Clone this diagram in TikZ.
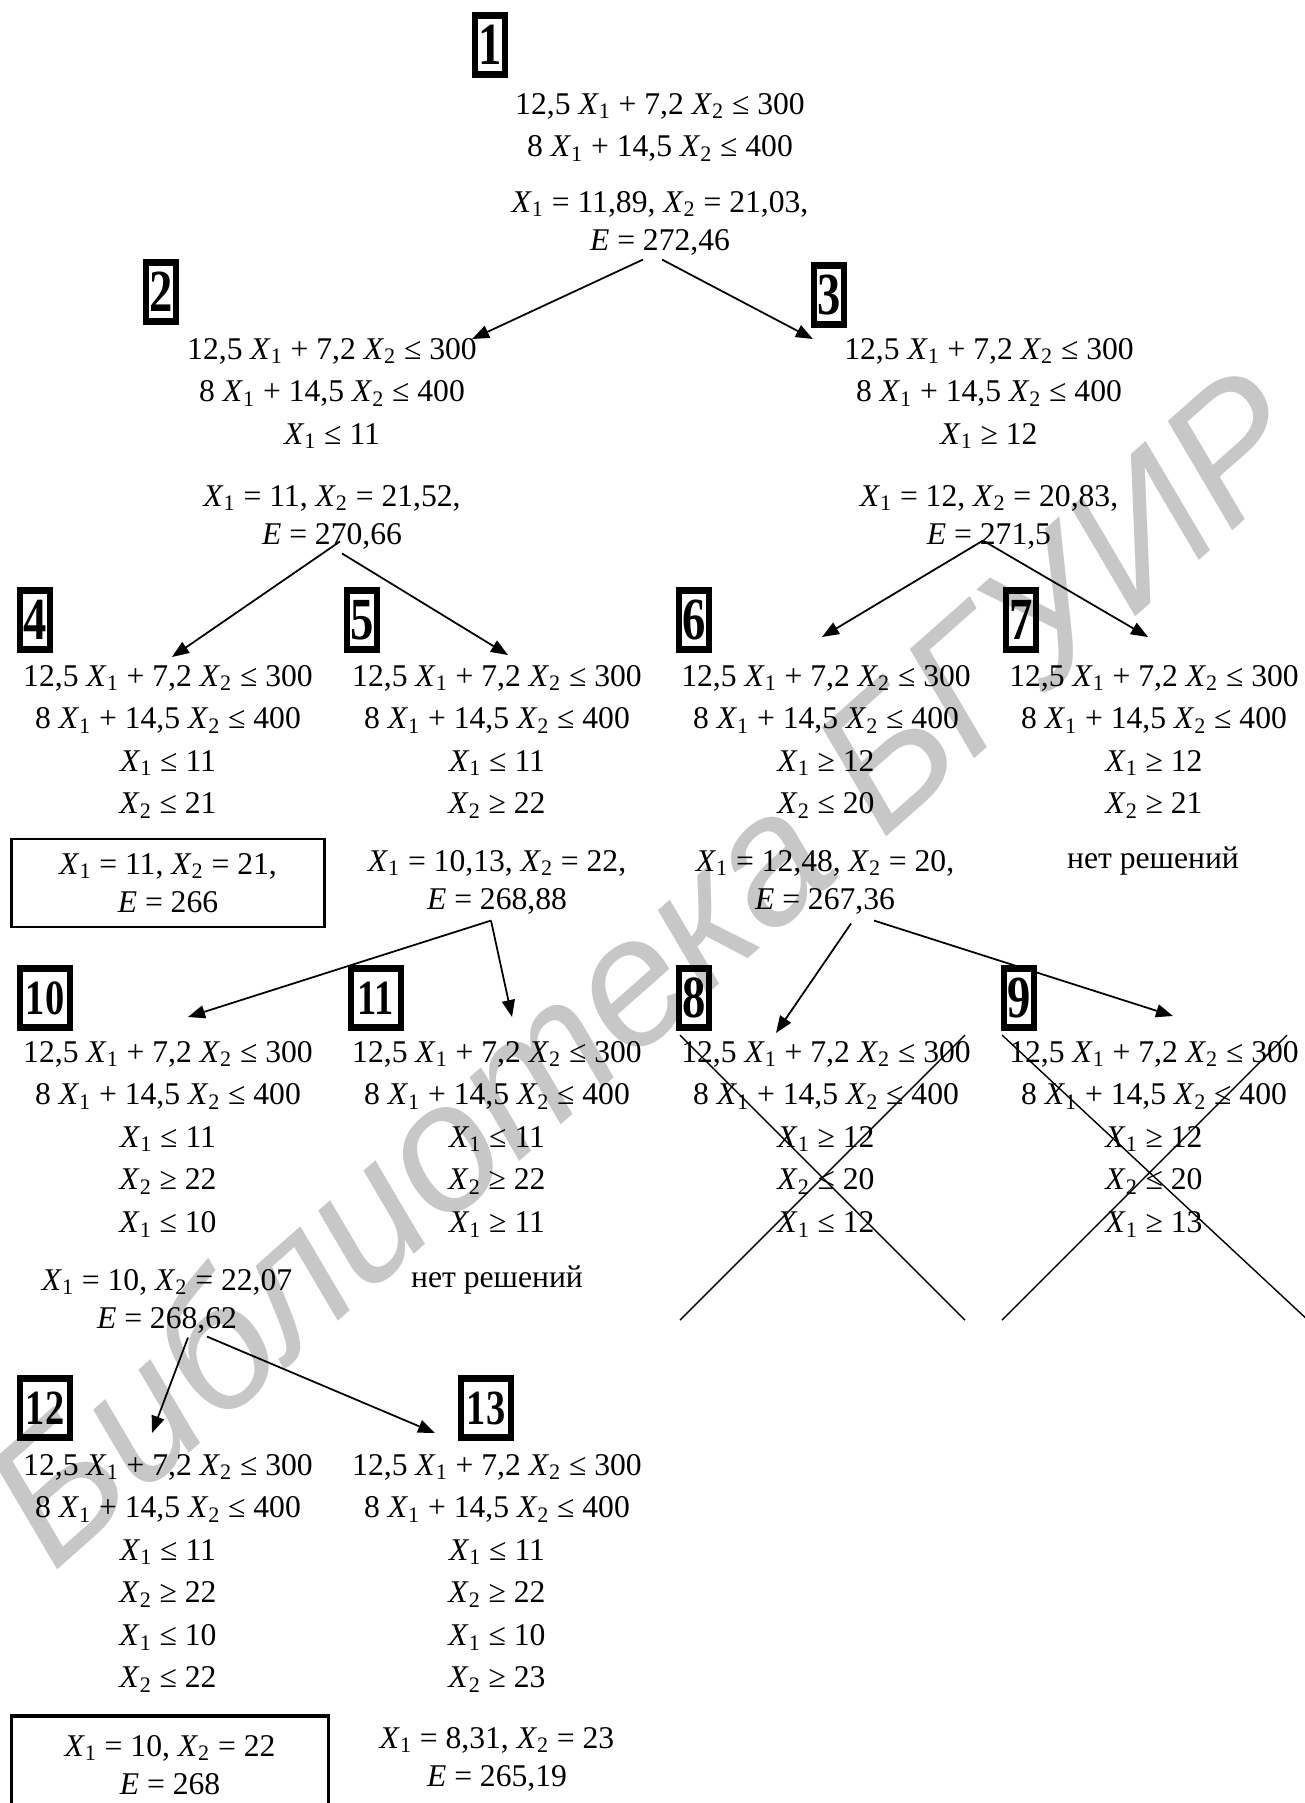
\documentclass[tikz,border=0pt]{standalone}
\usepackage{fontspec}
\setmainfont{Liberation Serif}
\newfontfamily\wmfont{Liberation Sans}
\usepackage{graphicx}
\usetikzlibrary{arrows.meta,calc}

\newcommand\Xa{\textit{X}\textsubscript{1}}
\newcommand\Xb{\textit{X}\textsubscript{2}}
\newcommand\Ev{\textit{E}}
\newcommand\lima{12,5 \Xa{} + 7,2 \Xb{} ≤ 300}
\newcommand\limb{8 \Xa{} + 14,5 \Xb{} ≤ 400}
\newcommand\nosol{нет решений}
\newcommand\nr[1]{\scalebox{0.78}[1]{#1}}

\begin{document}
\begin{tikzpicture}[
    x=0.02cm, y=-0.02cm,
    cons/.style={
        align=center,
        inner sep=0pt,
        anchor=north,
        font=\fontsize{18}{24.2}\selectfont
    },
    res/.style={
        align=center,
        inner sep=0pt,
        anchor=north,
        font=\fontsize{18}{21.6}\selectfont
    },
    best/.style={
        draw,
        line width=1.2pt,
        align=center,
        inner sep=0pt,
        minimum width=6.26cm,
        minimum height=1.76cm,
        font=\fontsize{18}{21.6}\selectfont
    },
    lbl/.style={
        draw,
        line width=3.6pt,
        inner sep=0pt,
        minimum width=0.6cm,
        minimum height=1.18cm,
        font=\fontsize{34}{34}\selectfont\bfseries
    },
    lblw/.style={lbl, minimum width=1.0cm, font=\fontsize{28}{28}\selectfont\bfseries},
    arrow/.style={-{Triangle[length=3.4mm,width=2.6mm]}, line width=1pt},
    cross/.style={line width=0.8pt},
    wm/.style={
        text=black!22,
        anchor=base,
        rotate=41.5,
        font=\wmfont\itshape\fontsize{103}{103}\selectfont
    }
]
\useasboundingbox (0,0) rectangle (1305,1803);

% watermark
\node[wm] (wmark) at (686,1014) {Библиотека БГУИР};

% level 1
\node[lbl] (n1) at (490,45) {\nr{1}};
\node[cons] (c1) at (660,93) {\lima\\\limb};
\node[res] (o1) at (660,191) {\Xa{} = 11,89, \Xb{} = 21,03,\\\Ev{} = 272,46};

% level 2
\node[lbl] (n2) at (161,292) {\nr{2}};
\node[cons] (c2) at (332,338) {\lima\\\limb\\\Xa{} ≤ 11};
\node[res] (o2) at (332,485) {\Xa{} = 11, \Xb{} = 21,52,\\\Ev{} = 270,66};
\node[lbl] (n3) at (829,295) {\nr{3}};
\node[cons] (c3) at (989,338) {\lima\\\limb\\\Xa{} ≥ 12};
\node[res] (o3) at (989,485) {\Xa{} = 12, \Xb{} = 20,83,\\\Ev{} = 271,5};

% level 3
\node[lbl] (n4) at (35,620) {\nr{4}};
\node[cons] (c4) at (168,665) {\lima\\\limb\\\Xa{} ≤ 11\\\Xb{} ≤ 21};
\node[best] (o4) at (168,883) {\Xa{} = 11, \Xb{} = 21,\\\Ev{} = 266};
\node[lbl] (n5) at (362,620) {\nr{5}};
\node[cons] (c5) at (497,665) {\lima\\\limb\\\Xa{} ≤ 11\\\Xb{} ≥ 22};
\node[res] (o5) at (497,850) {\Xa{} = 10,13, \Xb{} = 22,\\\Ev{} = 268,88};
\node[lbl] (n6) at (694,620) {\nr{6}};
\node[cons] (c6) at (826,665) {\lima\\\limb\\\Xa{} ≥ 12\\\Xb{} ≤ 20};
\node[res] (o6) at (825,850) {\Xa{} = 12,48, \Xb{} = 20,\\\Ev{} = 267,36};
\node[lbl] (n7) at (1021,620) {\nr{7}};
\node[cons] (c7) at (1154,665) {\lima\\\limb\\\Xa{} ≥ 12\\\Xb{} ≥ 21};
\node[res, anchor=base] (o7) at (1153,868) {\nosol};

% level 4
\node[lblw] (n10) at (45,998) {\nr{10}};
\node[cons] (c10) at (168,1041) {\lima\\\limb\\\Xa{} ≤ 11\\\Xb{} ≥ 22\\\Xa{} ≤ 10};
\node[res] (o10) at (167,1269) {\Xa{} = 10, \Xb{} = 22,07\\\Ev{} = 268,62};
\node[lblw] (n11) at (376,998) {\nr{11}};
\node[cons] (c11) at (497,1041) {\lima\\\limb\\\Xa{} ≤ 11\\\Xb{} ≥ 22\\\Xa{} ≥ 11};
\node[res, anchor=base] (o11) at (497,1287) {\nosol};
\node[lbl] (n8) at (694,998) {\nr{8}};
\node[cons] (c8) at (826,1041) {\lima\\\limb\\\Xa{} ≥ 12\\\Xb{} ≤ 20\\\Xa{} ≤ 12};
\node[lbl] (n9) at (1019,998) {\nr{9}};
\node[cons] (c9) at (1154,1041) {\lima\\\limb\\\Xa{} ≥ 12\\\Xb{} ≤ 20\\\Xa{} ≥ 13};

% level 5
\node[lblw] (n12) at (45,1408) {\nr{12}};
\node[cons] (c12) at (168,1454) {\lima\\\limb\\\Xa{} ≤ 11\\\Xb{} ≥ 22\\\Xa{} ≤ 10\\\Xb{} ≤ 22};
\node[best, line width=1.8pt, minimum width=6.34cm, minimum height=1.96cm] (o12) at (170,1765) {\Xa{} = 10, \Xb{} = 22\\\Ev{} = 268};
\node[lblw] (n13) at (486,1408) {\nr{13}};
\node[cons] (c13) at (497,1454) {\lima\\\limb\\\Xa{} ≤ 11\\\Xb{} ≥ 22\\\Xa{} ≤ 10\\\Xb{} ≥ 23};
\node[res] (o13) at (497,1727) {\Xa{} = 8,31, \Xb{} = 23\\\Ev{} = 265,19};

% branches
\draw[arrow] ($(o1.south)+(-17,4)$) -- ($(c2.north east)+(-5,1)$);
\draw[arrow] ($(o1.south)+(2,4)$) -- ($(c3.north west)+(-31,1)$);
\draw[arrow] ($(o2.south)+(8,-8)$) -- ($(c4.north)+(4,-8)$);
\draw[arrow] ($(o2.south)+(10,4)$) -- ($(c5.north)+(11,-10)$);
\draw[arrow] ($(o3.south)+(-6,-9)$) -- ($(c6.north)+(-4,-28)$);
\draw[arrow] ($(o3.south)+(-6,-9)$) -- ($(c7.north)+(-6,-28)$);
\draw[arrow] ($(o5.south)+(-6,6)$) -- ($(c10.north)+(20,-24)$);
\draw[arrow] ($(o5.south)+(-6,6)$) -- ($(c11.north)+(15,-24)$);
\draw[arrow] ($(o6.south)+(26,9)$) -- ($(c8.north)+(-50,-8)$);
\draw[arrow] ($(o6.south)+(49,6)$) -- ($(c9.north)+(19,-25)$);
\draw[arrow] ($(o10.south)+(21,4)$) -- ($(c12.north)+(-16,-21)$);
\draw[arrow] ($(o10.south)+(40,3)$) -- ($(c13.north)+(-62,-21)$);

% pruned branches
\draw[cross] (680,1035) -- (965,1320);
\draw[cross] (680,1320) -- (965,1035);
\draw[cross] (1002,1035) -- (1310,1322);
\draw[cross] (1002,1320) -- (1287,1035);
\end{tikzpicture}
\end{document}
